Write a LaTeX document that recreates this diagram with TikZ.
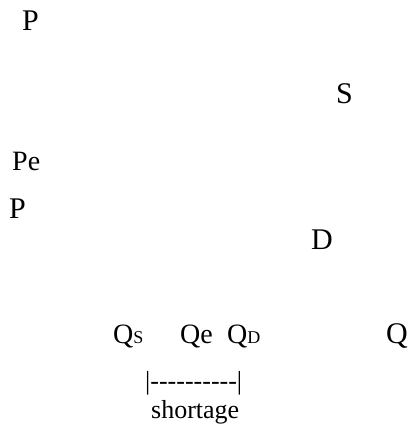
\documentclass[tikz,border=0pt]{standalone}
\usepackage{fontspec}
\setmainfont{Liberation Serif}
\newcommand\hy{-\kern0pt}
\begin{document}
\begin{tikzpicture}[x=1pt,y=-1pt,
  lbl/.style={inner sep=0pt,anchor=base west,font=\fontsize{30}{32}\selectfont},
  mid/.style={inner sep=0pt,anchor=base west,font=\fontsize{28}{30}\selectfont},
  sml/.style={inner sep=0pt,anchor=base west,font=\fontsize{26}{28}\selectfont}]
\useasboundingbox (0,0) rectangle (409,430);
\node[lbl] (p1) at (22,30.5) {P};
\node[lbl] (s) at (336,103.5) {S};
\node[mid] (pe) at (12,170.5) {Pe};
\node[lbl] (p2) at (9,218) {P};
\node[lbl] (d) at (311,249) {D};
\node[mid] (qs) at (113,343) {Q\fontsize{18}{20}\selectfont S};
\node[mid] (qe) at (180,343) {Qe};
\node[mid] (qd) at (227,343) {Q\fontsize{18}{20}\selectfont D};
\node[lbl] (q) at (386,343) {Q};
\node[sml] (bar) at (145,389) {|\hy\hy\hy\hy\hy\hy\hy\hy\hy\hy|};
\node[sml] (sh) at (151,418) {shortage};
\end{tikzpicture}
\end{document}
